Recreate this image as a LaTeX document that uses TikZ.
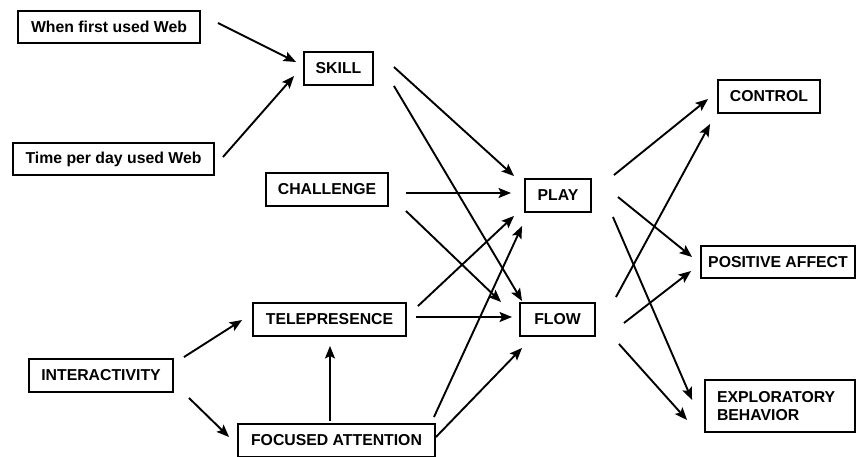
\documentclass[tikz,border=0pt]{standalone}
\usepackage{fontspec}
\setmainfont{Liberation Sans}
\usetikzlibrary{calc,arrows.meta}
\begin{document}
\begin{tikzpicture}[x=1pt,y=-1pt,
  box/.style={draw,line width=1.9pt,inner sep=0pt,font=\fontsize{15.8}{17.5}\selectfont\bfseries,align=center},
  arr/.style={line width=1.9pt,-{Stealth[length=12.5pt,width=10pt,inset=2.5pt]}}]
\fill[white] (0,0) rectangle (856,456);
\useasboundingbox (0,0) rectangle (856,456);
\node[box,minimum width=182pt,minimum height=32pt] (wfw) at (109,27) {When first used Web};
\node[box,minimum width=69pt,minimum height=33pt] (skill) at (338.5,68.5) {SKILL};
\node[box,minimum width=201pt,minimum height=32pt] (tpd) at (113.5,159) {Time per day used Web};
\node[box,minimum width=122pt,minimum height=33pt] (chal) at (327,189.5) {CHALLENGE};
\node[box,minimum width=66pt,minimum height=33pt] (play) at (558,195.5) {PLAY};
\node[box,minimum width=102pt,minimum height=33pt] (control) at (769,96.5) {CONTROL};
\node[box,minimum width=153pt,minimum height=33pt] (tele) at (329.5,319.5) {TELEPRESENCE};
\node[box,minimum width=144pt,minimum height=33pt] (inter) at (101,375.5) {INTERACTIVITY};
\node[box,minimum width=197pt,minimum height=33pt] (focus) at (336.5,440.5) {FOCUSED ATTENTION};
\node[box,minimum width=75pt,minimum height=33pt] (flow) at (557.5,319.5) {FLOW};
\node[box,minimum width=154pt,minimum height=32pt] (posaff) at (778,262) {POSITIVE AFFECT};
\node[box,minimum width=150pt,minimum height=52pt,text width=126pt,align=left] (explor) at (780,406) {EXPLORATORY\\BEHAVIOR};
\draw[arr] ($(wfw.east)+(17,-4)$) -- ($(skill.west)+(-7,-6.5)$);
\draw[arr] ($(tpd.east)+(8,-2)$) -- ($(skill.west)+(-9,7.5)$);
\draw[arr] ($(skill.east)+(20,-1.5)$) -- ($(play.north west)+(-10,-2)$);
\draw[arr] ($(skill.south east)+(20,0)$) -- ($(flow.north west)+(3,-1)$);
\draw[arr] ($(chal.east)+(17,3.5)$) -- ($(play.west)+(-13,-2.5)$);
\draw[arr] ($(chal.south east)+(17,4)$) -- ($(flow.north west)+(-18,0)$);
\draw[arr] ($(tele.north east)+(11,4)$) -- ($(play.south west)+(-10,3)$);
\draw[arr] ($(tele.east)+(9,-2.5)$) -- ($(flow.west)+(-7,-2.5)$);
\draw[arr] ($(inter.north east)+(10,-1)$) -- ($(tele.west)+(-10,0.5)$);
\draw[arr] ($(inter.south east)+(15,5)$) -- ($(focus.west)+(-8,-3.5)$);
\draw[arr] ($(focus.north)+(-6.5,-2)$) -- ($(tele.south)+(0.5,9)$);
\draw[arr] ($(focus.north east)+(-2,-6)$) -- ($(play.south west)+(-2,13)$);
\draw[arr] ($(focus.east)+(0,-3.5)$) -- ($(flow.south west)+(3,11)$);
\draw[arr] ($(play.north east)+(22,-3)$) -- ($(control.west)+(-9,2.5)$);
\draw[arr] ($(flow.north east)+(20,-5)$) -- ($(control.south west)+(-7,10)$);
\draw[arr] ($(play.east)+(26,1.5)$) -- ($(posaff.west)+(-8,-5)$);
\draw[arr] ($(play.south east)+(21,4)$) -- ($(explor.west)+(-12,-6)$);
\draw[arr] ($(flow.east)+(28,3.5)$) -- ($(posaff.west)+(-9,9)$);
\draw[arr] ($(flow.south east)+(23,7)$) -- ($(explor.west)+(-17,14)$);
\end{tikzpicture}
\end{document}
